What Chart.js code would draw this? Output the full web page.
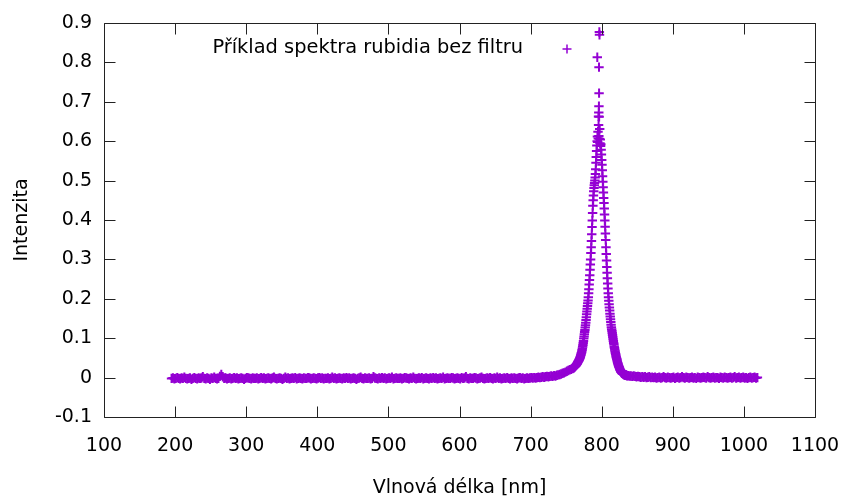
<!DOCTYPE html>
<html><head><meta charset="utf-8">
<script src="https://cdn.jsdelivr.net/npm/chart.js@4"></script>
<style>html,body{margin:0;padding:0;background:#fff}canvas{display:block}</style>
</head><body>
<canvas id="c" width="844" height="499"></canvas>
<script>
const seriesLabel = 'Příklad spektra rubidia bez filtru';
const xTitle = 'Vlnová délka [nm]';
const yTitle = 'Intenzita';
const xTickValues = [100,200,300,400,500,600,700,800,900,1000,1100];
const xTickLabels = ['100','200','300','400','500','600','700','800','900','1000','1100'];
const yTickValues = [-0.1,0,0.1,0.2,0.3,0.4,0.5,0.6,0.7,0.8,0.9];
const yTickLabels = ['-0.1','0','0.1','0.2','0.3','0.4','0.5','0.6','0.7','0.8','0.9'];

// spectrometer sampling grid + intensities
const leftTailStartNm = 195, leftTailStepNm = 2;
const leftTailIntensity = [
-0.002,-0.001,-0.003,-0.002,0.000,-0.002,-0.003,-0.001,-0.002,0.001,-0.002,-0.003,-0.002,-0.001,-0.004,-0.002,0.000,-0.002,-0.003,-0.001,
-0.002,-0.001,0.002,-0.002,-0.003,-0.001,-0.002,-0.004,-0.001,-0.002,0.001,-0.002,-0.003,-0.002,0.003,0.008,0.002,-0.002,-0.001,-0.003,
-0.002,-0.001,-0.003,-0.002,0.000,-0.002,-0.001,-0.003,-0.002,-0.001,-0.002,-0.004,-0.002,0.000,-0.001,-0.002,-0.003,-0.001,-0.002,-0.002,
-0.001,-0.003,-0.002,0.000,-0.002,-0.001,-0.003,-0.002,-0.001,-0.002,-0.003,-0.001,0.001,-0.002,-0.003,-0.002,-0.001,-0.002,-0.004,-0.002,
0.001,-0.002,-0.001,-0.003,-0.002,-0.001,-0.002,0.000,-0.003,-0.002,-0.001,-0.002,-0.003,-0.001,-0.002,-0.002,0.000,-0.001,-0.003,-0.002,
-0.001,-0.002,-0.003,-0.001,0.000,-0.002,-0.001,-0.003,-0.002,-0.002,-0.001,-0.003,-0.002,0.001,-0.002,-0.001,-0.003,-0.002,-0.001,-0.002,
-0.003,-0.001,-0.002,0.000,-0.002,-0.001,-0.003,-0.002,-0.001,-0.002,-0.004,-0.002,-0.001,0.001,-0.002,-0.003,-0.001,-0.002,-0.002,-0.001,
-0.003,-0.002,0.002,-0.001,-0.002,-0.003,-0.001,-0.002,0.000,-0.002,-0.001,-0.003,-0.002,-0.001,-0.002,0.001,-0.003,-0.002,-0.001,-0.002,
-0.002,-0.001,-0.003,-0.002,0.000,-0.001,-0.002,-0.003,-0.001,-0.002,0.001,-0.002,-0.003,-0.002,-0.001,-0.002,0.000,-0.003,-0.002,-0.001,
-0.002,-0.003,-0.001,-0.002,0.000,-0.002,-0.001,-0.003,-0.002,-0.001,-0.002,0.001,-0.003,-0.002,-0.001,-0.002,-0.002,0.000,-0.001,-0.003,
-0.002,-0.001,-0.002,-0.003,0.000,-0.002,-0.001,0.002,-0.002,-0.003,-0.001,-0.002,-0.002,0.000,-0.001,-0.003,-0.002,-0.001,0.001,-0.002,
-0.003,-0.002,-0.001,-0.002,0.000,-0.002,-0.003,-0.001,-0.002,0.001,-0.002,-0.001,-0.003,-0.002,-0.001,-0.002,0.000,-0.002,-0.003,-0.001,
-0.002,-0.001,-0.002,-0.003,-0.001,0.000,-0.002,-0.001,-0.003,-0.002,-0.001,-0.002,-0.001,
0.000,-0.001,0.000,-0.001,0.000,0.001,0.000,0.001,0.002,0.001,0.002,0.003,0.002,0.003,0.004,0.003,0.005,0.004,0.006,0.007,
0.008,0.009,0.011,0.012,0.014,0.016,0.018,0.020,0.021,0.023
];
const peakStartNm = 760, peakStepNm = 0.4;
const peakIntensity = [
0.024,0.026,0.025,0.027,0.028,0.027,0.029,0.030,0.031,0.030,
0.032,0.033,0.034,0.035,0.036,0.038,0.039,0.040,0.042,0.043,
0.044,0.046,0.047,0.049,0.051,0.053,0.056,0.058,0.061,0.063,
0.066,0.070,0.074,0.078,0.083,0.088,0.093,0.099,0.104,0.110,
0.116,0.121,0.127,0.133,0.139,0.146,0.153,0.161,0.168,0.175,
0.182,0.189,0.196,0.204,0.214,0.224,0.236,0.248,0.260,0.274,
0.287,0.300,0.316,0.331,0.347,0.364,0.382,0.399,0.418,0.436,
0.450,0.462,0.473,0.481,0.488,0.494,0.500,0.508,0.517,0.529,
0.545,0.560,0.575,0.589,0.600,0.612,0.598,0.624,0.607,0.641,
0.613,0.662,0.606,0.631,0.595,0.604,0.588,0.592,0.578,0.566,
0.552,0.540,0.526,0.511,0.497,0.483,0.470,0.456,0.443,0.429,
0.414,0.399,0.383,0.366,0.349,0.331,0.314,0.297,0.281,0.266,
0.252,0.239,0.226,0.214,0.204,0.195,0.186,0.178,0.170,0.162,
0.155,0.148,0.141,0.134,0.128,0.123,0.118,0.113,0.108,0.103,
0.098,0.093,0.088,0.084,0.079,0.075,0.071,0.067,0.063,0.060,
0.056,0.053,0.050,0.047,0.044,0.041,0.038,0.036,0.033,0.031,
0.029,0.027,0.025,0.023,0.021,0.019,0.018,0.016,0.015,0.014,
0.013,0.012,0.011,0.011,0.010,0.010,0.009,0.009,0.008,0.008,
0.008,0.007,0.007,0.007,0.006,0.006,0.006,0.006,0.005,0.005,0.005
];
const spikeNm = [796.7,796.9,793.8,796.2,796.3,796.1,795.9,795.5];
const spikeIntensity = [0.877,0.870,0.813,0.788,0.722,0.689,0.673,0.663];
const rightTailStartNm = 837, rightTailStepNm = 2;
const rightTailIntensity = [
0.005,0.004,0.004,0.003,0.004,0.003,0.002,0.003,0.002,0.001,0.002,0.001,0.002,0.000,0.001,0.002,0.000,0.001,0.000,0.001,
-0.001,0.000,0.001,-0.001,0.000,0.002,0.000,-0.001,0.001,0.000,-0.001,0.000,0.001,-0.002,0.000,0.001,-0.001,0.000,0.002,0.000,
-0.001,0.001,0.000,-0.001,0.000,0.001,-0.001,0.000,-0.002,0.001,0.000,-0.001,0.000,0.001,0.000,-0.001,0.002,0.000,-0.001,0.000,
0.001,-0.001,0.000,0.000,-0.002,0.001,0.000,-0.001,0.001,0.000,-0.001,0.000,0.001,-0.001,0.000,0.002,-0.001,0.000,0.001,-0.001,
0.000,0.001,-0.001,0.000,-0.002,0.000,0.001,-0.001,0.000,0.001,-0.001,0.000
];

const points = [];
leftTailIntensity.forEach((v,i)=>points.push({x:leftTailStartNm+i*leftTailStepNm, y:v}));
peakIntensity.forEach((v,i)=>points.push({x:+(peakStartNm+i*peakStepNm).toFixed(1), y:v}));
spikeNm.forEach((nm,i)=>points.push({x:nm, y:spikeIntensity[i]}));
rightTailIntensity.forEach((v,i)=>points.push({x:rightTailStartNm+i*rightTailStepNm, y:v}));

const COLOR = '#9400d3';
const FONT = '"DejaVu Sans", sans-serif';
const MARK_W = 2;

const framePlugin = {
  id: 'frame',
  afterDatasetsDraw(chart) {
    const {ctx, chartArea: a, scales: {x, y}} = chart;
    const L = Math.round(a.left) + 0.5, R = Math.round(a.right) + 0.5;
    const T = Math.round(a.top) + 0.5, B = Math.round(a.bottom) + 0.5;
    const tl = 11;
    ctx.save();
    ctx.strokeStyle = '#222';
    ctx.lineWidth = 1;
    ctx.beginPath();
    ctx.rect(L, T, R - L, B - T);
    xTickValues.forEach(v => {
      const p = Math.round(x.getPixelForValue(v)) + 0.5;
      ctx.moveTo(p, B); ctx.lineTo(p, B - tl);
      ctx.moveTo(p, T); ctx.lineTo(p, T + tl);
    });
    yTickValues.forEach(v => {
      const p = Math.round(y.getPixelForValue(v)) + 0.5;
      ctx.moveTo(L, p); ctx.lineTo(L + tl, p);
      ctx.moveTo(R, p); ctx.lineTo(R - tl, p);
    });
    ctx.stroke();
    // key (legend) inside plot, gnuplot style
    const ly = a.top + 25;
    ctx.font = '19.4px ' + FONT;
    ctx.fillStyle = '#000';
    ctx.textAlign = 'right';
    ctx.textBaseline = 'middle';
    ctx.fillText(seriesLabel, a.left + 419, ly);
    const sx = a.left + 463;
    ctx.strokeStyle = COLOR;
    ctx.lineWidth = 1.5;
    ctx.beginPath();
    ctx.moveTo(sx - 4.5, ly + 1); ctx.lineTo(sx + 4.5, ly + 1);
    ctx.moveTo(sx, ly - 3.5); ctx.lineTo(sx, ly + 5.5);
    ctx.stroke();
    ctx.restore();
  }
};

new Chart(document.getElementById('c'), {
  type: 'scatter',
  data: { datasets: [{
    label: seriesLabel,
    data: points,
    pointStyle: 'cross',
    pointRadius: 4.7,
    pointBorderWidth: MARK_W,
    pointBorderColor: COLOR,
    pointBackgroundColor: COLOR,
    borderColor: COLOR,
    backgroundColor: COLOR,
    showLine: false
  }]},
  options: {
    responsive: false,
    animation: false,
    devicePixelRatio: 1,
    events: [],
    layout: { padding: { top: 23, right: 29, left: 0, bottom: 0 } },
    plugins: { legend: { display: false }, tooltip: { enabled: false } },
    scales: {
      x: {
        type: 'linear', min: 100, max: 1100,
        grid: { display: false, drawTicks: true, tickLength: 18 }, border: { display: false },
        afterBuildTicks: s => { s.ticks = xTickValues.map(v => ({ value: v })); },
        afterFit: s => { s.height = 82; },
        ticks: { autoSkip: false, maxRotation: 0, padding: 0, color: '#000',
          font: { family: FONT, size: 19 },
          callback: (v, i) => xTickLabels[i] },
        title: { display: true, text: xTitle, color: '#000',
          font: { family: FONT, size: 19 }, padding: { top: 0, bottom: 0 } }
      },
      y: {
        type: 'linear', min: -0.1, max: 0.9,
        grid: { display: false, drawTicks: true, tickLength: 12 }, border: { display: false },
        afterBuildTicks: s => { s.ticks = yTickValues.map(v => ({ value: v })); },
        afterFit: s => { s.width = 104; },
        ticks: { autoSkip: false, padding: 0, color: '#000',
          font: { family: FONT, size: 19 },
          callback: (v, i) => yTickLabels[i] },
        title: { display: true, text: yTitle, color: '#000',
          font: { family: FONT, size: 19 }, padding: { top: 11, bottom: 0 } }
      }
    }
  },
  plugins: [framePlugin]
});
</script>
</body></html>
